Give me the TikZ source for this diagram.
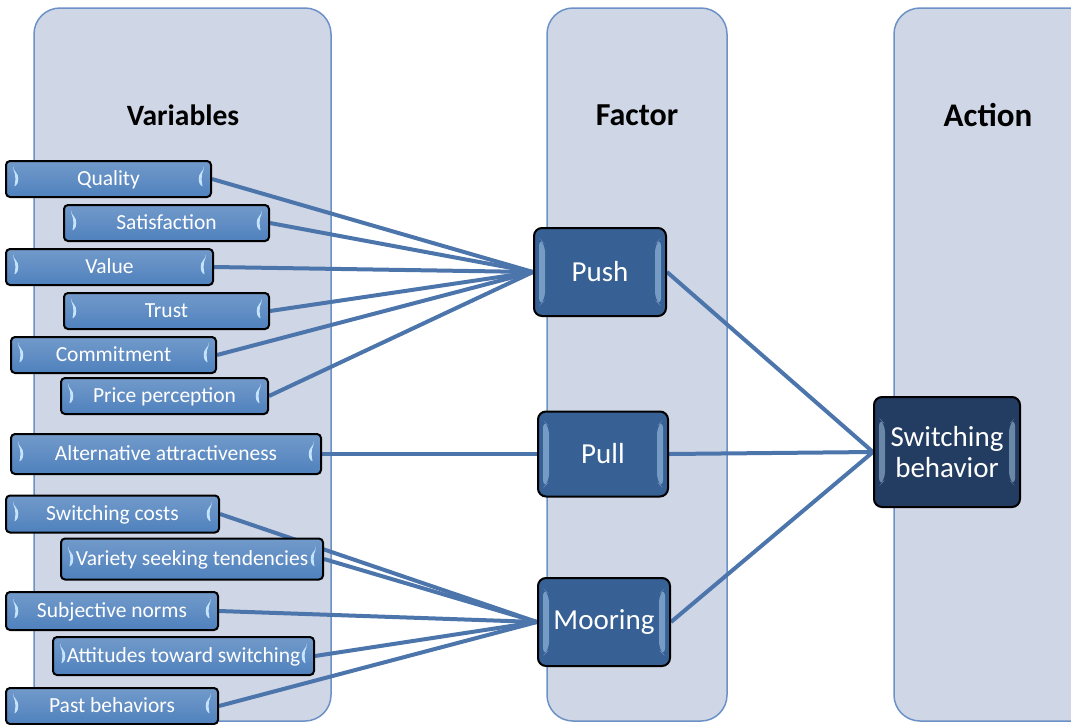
\documentclass[tikz,border=0pt]{standalone}
\usepackage{fontspec}
\setmainfont{Carlito}
\usetikzlibrary{positioning}

\definecolor{panelfill}{RGB}{207,214,229}
\definecolor{paneledge}{RGB}{108,145,198}
\definecolor{varblue}{RGB}{79,129,189}
\definecolor{factblue}{RGB}{55,96,148}
\definecolor{actblue}{RGB}{35,60,97}
\definecolor{linkblue}{RGB}{76,117,172}
\definecolor{bevel}{RGB}{196,228,255}

\pgfdeclarelayer{panels}
\pgfdeclarelayer{links}
\pgfsetlayers{panels,links,main}

\tikzset{
	panel/.style={fill=panelfill, draw=paneledge, line width=1.5pt, rounded corners=26pt},
	head/.style={font=\bfseries\fontsize{29.5}{33}\selectfont},
	var/.style={draw=black, line width=2pt, rounded corners=4pt, top color=varblue!80!white, bottom color=varblue,
		text=white, anchor=west, minimum height=36pt, inner sep=0pt, text height=13pt, text depth=0pt,
		font=\fontsize{21.5}{24}\selectfont,
		path picture={
			\fill[bevel] ([shift={(7pt,9pt)}]path picture bounding box.west)
				.. controls +(6pt,-5pt) and +(6pt,5pt) .. ([shift={(7pt,-9pt)}]path picture bounding box.west)
				.. controls +(2.5pt,5pt) and +(2.5pt,-5pt) .. cycle;
			\fill[bevel] ([shift={(-7pt,9pt)}]path picture bounding box.east)
				.. controls +(-6pt,-5pt) and +(-6pt,5pt) .. ([shift={(-7pt,-9pt)}]path picture bounding box.east)
				.. controls +(-2.5pt,5pt) and +(-2.5pt,-5pt) .. cycle;
		}},
	fact/.style={draw=black, line width=2pt, rounded corners=8pt, fill=factblue, text=white, align=center,
		minimum width=132pt, minimum height=88pt, inner sep=0pt, font=\fontsize{29}{31}\selectfont,
		path picture={
			\fill[bevel, fill opacity=.45] ([shift={(5pt,34pt)}]path picture bounding box.west) -- ([shift={(11pt,28pt)}]path picture bounding box.west)
				-- ([shift={(11pt,-28pt)}]path picture bounding box.west) -- ([shift={(5pt,-34pt)}]path picture bounding box.west) -- cycle;
			\fill[bevel, fill opacity=.45] ([shift={(-5pt,34pt)}]path picture bounding box.east) -- ([shift={(-11pt,28pt)}]path picture bounding box.east)
				-- ([shift={(-11pt,-28pt)}]path picture bounding box.east) -- ([shift={(-5pt,-34pt)}]path picture bounding box.east) -- cycle;
		}},
	link/.style={draw=linkblue, line width=4pt}
}

\begin{document}
\begin{tikzpicture}[x=1pt,y=-1pt]
	\useasboundingbox (0,0) rectangle (1071,724);

	% columns
	\begin{pgfonlayer}{panels}
		\draw[panel] (34,8) rectangle (331,721);
		\draw[panel] (547,8) rectangle (727,721);
		\draw[panel] (894,8) rectangle (1100,721);
	\end{pgfonlayer}

	\node[head] (varhead) at (183,115) {Variables};
	\node[head, font=\bfseries\fontsize{32}{35}\selectfont] (facthead) at (637,115) {Factor};
	\node[head, font=\bfseries\fontsize{33}{36}\selectfont] (acthead) at (988,115) {Action};

	% variables
	\node[var, minimum width=205pt] (quality) at (5,179) {Quality};
	\node[var, minimum width=205pt] (satisfaction) at (63,223) {Satisfaction};
	\node[var, minimum width=207pt] (value) at (5,267) {Value};
	\node[var, minimum width=205pt] (trust) at (63,311) {Trust};
	\node[var, minimum width=205pt] (commitment) at (10,355) {Commitment};
	\node[var, minimum width=207pt] (price) at (60,396) {Price perception};
	\node[var, minimum width=310pt, minimum height=40pt] (alternative) at (10,454) {Alternative attractiveness};
	\node[var, minimum width=213pt, minimum height=37pt] (costs) at (5,514) {Switching costs};
	\node[var, minimum width=262pt, minimum height=41pt] (variety) at (60,559) {Variety seeking tendencies};
	\node[var, minimum width=212pt, minimum height=38pt] (norms) at (5,611) {Subjective norms};
	\node[var, minimum width=261pt, minimum height=38pt] (attitudes) at (52,656) {Attitudes toward switching};
	\node[var, minimum width=212pt] (past) at (5,706) {Past behaviors};

	% factors and action
	\node[fact] (push) at (600,272) {Push};
	\node[fact, minimum width=130pt, minimum height=85pt] (pull) at (603,454) {Pull};
	\node[fact] (mooring) at (604,622) {Mooring};
	\node[fact, fill=actblue, minimum width=146pt, minimum height=110pt] (switching) at (947,452) {Switching\\behavior};

	\begin{pgfonlayer}{links}
		\path[link] (push.west) edge (quality.east) edge (satisfaction.east) edge (value.east)
			edge (trust.east) edge (commitment.east) edge (price.east);
		\path[link] (pull.west) edge (alternative.east);
		\path[link] (mooring.west) edge (costs.east) edge (variety.east) edge (norms.east)
			edge (attitudes.east) edge (past.east);
		\path[link] (switching.west) edge (push.east) edge (pull.east) edge (mooring.east);
	\end{pgfonlayer}
\end{tikzpicture}
\end{document}
